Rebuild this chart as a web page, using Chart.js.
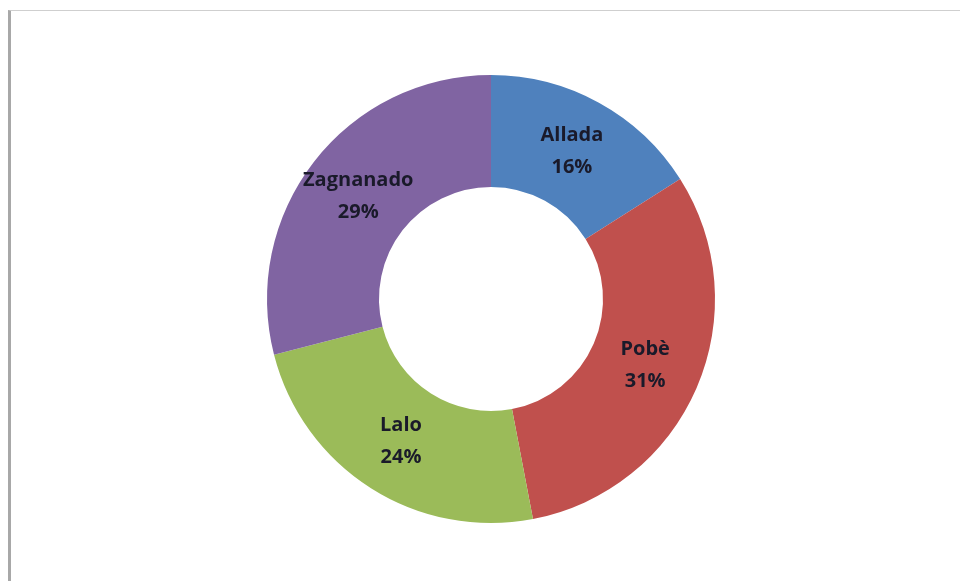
<!DOCTYPE html>
<html>
<head>
<meta charset="utf-8">
<script src="https://cdn.jsdelivr.net/npm/chart.js@4/dist/chart.umd.min.js"></script>
<style>
  html, body { margin: 0; padding: 0; background: #fff; }
  #wrap { position: relative; width: 960px; height: 581px; }
  #frame { position: absolute; left: 8px; top: 10px; right: 0; bottom: 0;
           border-left: 3px solid #a8a8a8; border-top: 1px solid #cfcfcf; }
  canvas { position: absolute; left: 0; top: 0; }
</style>
</head>
<body>
<div id="wrap">
  <div id="frame"></div>
  <canvas id="chart" width="960" height="581"></canvas>
</div>
<script>
// communes and their shares (%)
const communes = ['Allada', 'Pobè', 'Lalo', 'Zagnanado'];
const shares = [16, 31, 24, 29];
const sliceColors = ['#4F81BD', '#C0504D', '#9BBB59', '#8064A2'];

// draw "name / xx%" at the middle of each slice
const sliceLabels = {
  id: 'sliceLabels',
  afterDatasetsDraw(chart) {
    const ctx = chart.ctx;
    const meta = chart.getDatasetMeta(0);
    ctx.save();
    ctx.font = 'bold 20px "Open Sans", Lato, sans-serif';
    ctx.fillStyle = '#1a1a2a';
    ctx.textAlign = 'center';
    ctx.textBaseline = 'middle';
    meta.data.forEach((arc, i) => {
      const p = arc.tooltipPosition();
      ctx.fillText(chart.data.labels[i], p.x, p.y - 16);
      ctx.fillText(chart.data.datasets[0].data[i] + '%', p.x, p.y + 16);
    });
    ctx.restore();
  }
};

new Chart(document.getElementById('chart'), {
  type: 'doughnut',
  data: {
    labels: communes,
    datasets: [{
      data: shares,
      backgroundColor: sliceColors,
      borderWidth: 0
    }]
  },
  options: {
    responsive: false,
    animation: false,
    cutout: '50%',
    layout: { padding: { top: 75, bottom: 58, left: 22, right: 0 } },
    plugins: {
      legend: { display: false },
      tooltip: { enabled: false }
    }
  },
  plugins: [sliceLabels]
});
</script>
</body>
</html>
